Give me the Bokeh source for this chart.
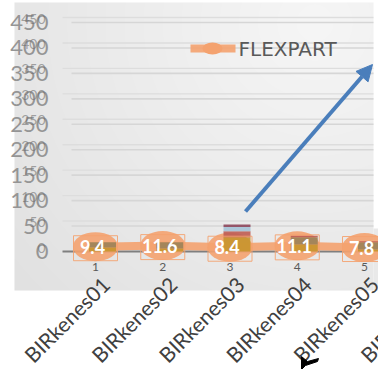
import numpy as np
from bokeh.plotting import figure
from bokeh.models import Range1d, Arrow, NormalHead
from bokeh.core.properties import value
from bokeh.embed import file_html
from bokeh.resources import INLINE

# ---- data ----
categories = ["BIRkenes01", "BIRkenes02", "BIRkenes03", "BIRkenes04", "BIRkenes05", "BIRkenes06"]
tick_numbers = ["1", "2", "3", "4", "5"]
flexpart = [9.4, 11.6, 8.4, 11.1, 7.8]
y_ticks = [0, 50, 100, 150, 200, 250, 300, 350, 400, 450]

# stacked source contributions under each station
stack_gold = [8, 6, 28, 14, 4]
stack_olive = [10, 12, 0, 14, 14]
stack_red = [0, 0, 12, 3, 2]
stack_blue = [0, 0, 8, 0, 0]
stack_plum = [0, 0, 5, 0, 0]

# ---- canvas geometry (pixel -> data helpers) ----
W, H = 378, 369
X_PX0, X_PX_PER = 27.75, 67.25      # x=0 position, px per category
Y_PX0, Y_PX_PER = 251.0, 229.0 / 450.0  # y=0 position, px per unit


def dx(px):
    return (px - X_PX0) / X_PX_PER


def dy(py):
    return (Y_PX0 - py) / Y_PX_PER


p = figure(width=W, height=H, output_backend="svg", toolbar_location=None,
           x_range=Range1d(dx(0), dx(W)), y_range=Range1d(dy(H), dy(0)),
           x_axis_location=None, y_axis_location=None, min_border=0)
p.grid.visible = False
p.outline_line_color = None
p.background_fill_color = "white"
p.border_fill_color = "white"

# gradient plot-area fill
gx0, gx1, gy0, gy1 = 14, 373, 2, 290
gw, gh = gx1 - gx0, gy1 - gy0
yy, xx = np.mgrid[0:gh, 0:gw]
r = np.sqrt((xx - 300.0) ** 2 + (yy - 20.0) ** 2) / 420.0
shade = (246 - 22 * np.clip(r, 0, 1)).astype(np.uint32)
img = np.empty((gh, gw), dtype=np.uint32)
view = img.view(dtype=np.uint8).reshape((gh, gw, 4))
view[:, :, 0] = shade
view[:, :, 1] = shade
view[:, :, 2] = shade
view[:, :, 3] = 255
img = img[::-1]
p.image_rgba(image=[img], x=dx(gx0), y=dy(gy1), dw=dx(gx1) - dx(gx0), dh=dy(gy0) - dy(gy1))
# small extension on the lower right
p.quad(left=dx(373), right=dx(W), top=dy(228), bottom=dy(290), fill_color="#E9E9E9", line_color=None)

# double horizontal gridlines
grid_vals = y_ticks[1:]
p.segment(x0=[dx(71)] * len(grid_vals), x1=[dx(373)] * len(grid_vals),
          y0=grid_vals, y1=grid_vals, line_color="#D6D6D6", line_width=1.6)
ghost = [v + 5.0 / Y_PX_PER for v in grid_vals]
p.segment(x0=[dx(62)] * len(grid_vals), x1=[dx(373)] * len(grid_vals),
          y0=ghost, y1=ghost, line_color="#DDDDDD", line_width=1.4)

# category axis line
p.segment(x0=[dx(62)], x1=[dx(372)], y0=[0], y1=[0], line_color="#7F7F7F", line_width=1.8)

# value axis labels (large + faint smaller copy)
p.text(x=[dx(48)] * len(y_ticks), y=y_ticks, text=[str(v) for v in y_ticks],
       text_align="right", text_baseline="middle", text_font=value("Lato"),
       text_font_size="22px", text_color="#959595")
p.text(x=[dx(45)] * len(y_ticks), y=[v + 4.0 / Y_PX_PER for v in y_ticks],
       text=[str(v) for v in y_ticks], text_align="right", text_baseline="middle",
       text_font=value("Lato"), text_font_size="14px", text_color="#6F6F6F", text_alpha=0.6)

xs = [i + 1 for i in range(len(flexpart))]

# FLEXPART line with large markers
orange = "#F4A26F"
p.line(xs, flexpart, line_color=orange, line_width=8, line_alpha=0.9)
p.ellipse(x=xs, y=flexpart, width=45 / X_PX_PER, height=29 / Y_PX_PER,
          fill_color=orange, fill_alpha=0.9, line_color=None)

# stacked bars
bx = [x + 7 / X_PX_PER for x in xs]
bw = 27 / X_PX_PER
layers = [(stack_gold, "#C8952E"), (stack_olive, "#9C8258"), (stack_red, "#BF5E55"),
          (stack_blue, "#A6C2D6"), (stack_plum, "#8E4A5E")]
base = [0.0] * len(xs)
for vals, col in layers:
    top = [b + v for b, v in zip(base, vals)]
    p.vbar(x=bx, width=bw, bottom=base, top=top, fill_color=col, fill_alpha=0.92, line_color=None)
    base = top

# data label boxes and values
p.rect(x=xs, y=[v - 1.5 / Y_PX_PER for v in flexpart], width=44 / X_PX_PER, height=25 / Y_PX_PER,
       fill_color=None, line_color=orange, line_width=1, line_alpha=0.9)
p.text(x=[x - 3 / X_PX_PER for x in xs], y=flexpart, text=[f"{v:.1f}" for v in flexpart],
       text_align="center", text_baseline="middle", text_font=value("Lato"),
       text_font_style="bold", text_font_size="18px", text_color="white")

# category tick numbers
p.text(x=xs, y=[dy(266)] * len(xs), text=tick_numbers, text_align="center",
       text_baseline="middle", text_font=value("Lato"), text_font_size="12px", text_color="#595959")

# rotated station names
cx = [i + 1 for i in range(len(categories))]
p.text(x=[c + 10 / X_PX_PER for c in cx], y=[dy(280)] * len(cx), text=categories,
       angle=np.pi / 4, text_align="right", text_baseline="middle", text_font=value("Lato"),
       text_font_size="21px", text_color="#404040")

# legend
p.line(x=[dx(190), dx(235)], y=[dy(48), dy(48)], line_color=orange, line_width=8, line_alpha=0.9)
p.ellipse(x=[dx(212)], y=[dy(48)], width=20 / X_PX_PER, height=12 / Y_PX_PER,
          fill_color=orange, line_color=None)
p.text(x=[dx(238)], y=[dy(48)], text=["FLEXPART"], text_align="left", text_baseline="middle",
       text_font=value("DejaVu Sans"), text_font_size="20px", text_color="#595959")

# trend arrow
p.add_layout(Arrow(x_start=dx(245), y_start=dy(211), x_end=dx(372), y_end=dy(64),
                   line_color="#4A7EBB", line_width=4,
                   end=NormalHead(size=16, fill_color="#4A7EBB", line_color="#4A7EBB")))

# mouse pointer
p.patch(x=[dx(301), dx(301), dx(305), dx(317), dx(318), dx(307)],
        y=[dy(356), dy(369), dy(365), dy(361), dy(358), dy(361)],
        fill_color="black", line_color="black")

open("out.html", "w").write(file_html(p, INLINE))
